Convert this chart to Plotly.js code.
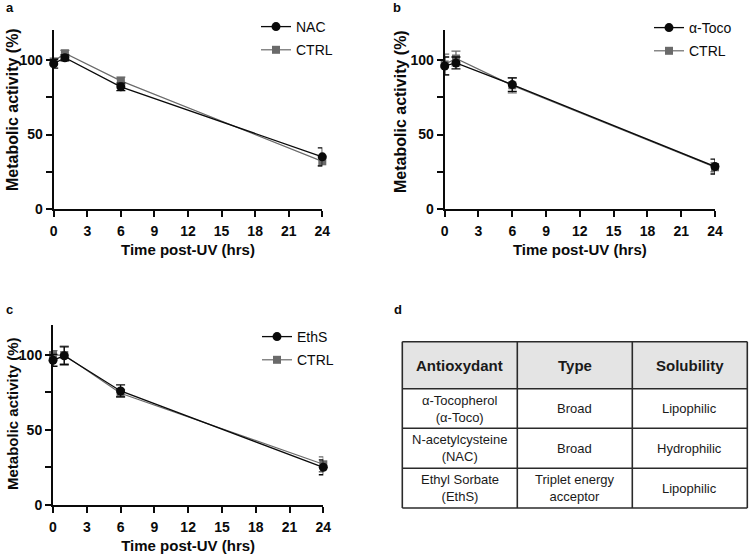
<!DOCTYPE html>
<html>
<head>
<meta charset="utf-8">
<script src="https://cdn.plot.ly/plotly-3.0.1.min.js"></script>
<style>html,body{margin:0;padding:0;background:#fff;}#chart{width:749px;height:554px;}</style>
</head>
<body>
<div id="chart"></div>
<script>
// ---- data ----
const timeHrs = [0, 1, 6, 24];
const xTickVals = [0, 3, 6, 9, 12, 15, 18, 21, 24];

const nacMean = [97.5, 101.5, 82, 35];
const nacErr = [3, 2, 2.5, 6];
const ctrlAMean = [99, 104.5, 86, 32];
const ctrlAErr = [2, 2, 2.5, 3];

const tocoMean = [96, 98, 83.5, 28.5];
const tocoErr = [6, 4, 4.5, 5];
const ctrlBMean = [97, 101, 83, 28];
const ctrlBErr = [7, 5, 5, 3];

const ethsMean = [96.5, 99.5, 76, 25];
const ethsErr = [4, 6, 4, 5];
const ctrlCMean = [100, 100, 74.5, 27];
const ctrlCErr = [3, 6, 2.5, 5];

const xTitle = "Time post-UV (hrs)";
const yTitle = "Metabolic activity (%)";
const panelLabels = ["a", "b", "c", "d"];
const tableHeader = ["Antioxydant", "Type", "Solubility"];
const tableCol1 = ["α-Tocopherol<br>(α-Toco)", "N-acetylcysteine<br>(NAC)", "Ethyl Sorbate<br>(EthS)"];
const tableCol2 = ["Broad", "Broad", "Triplet energy<br>acceptor"];
const tableCol3 = ["Lipophilic", "Hydrophilic", "Lipophilic"];

// ---- style ----
const W = 749, H = 554;
const FONT = "Liberation Sans, Arial, sans-serif";
const BLACK = "#0a0a0a";
const GRAY = "#6a6a6a";

function px(x) { return x / W; }
function py(y) { return 1 - y / H; }

function series(name, y, err, isCtrl, xa, ya, leg) {
  const c = isCtrl ? GRAY : BLACK;
  return {
    type: "scatter", mode: "lines+markers", name: name,
    x: timeHrs, y: y,
    xaxis: xa, yaxis: ya, legend: leg, legendgroup: leg + name,
    legendrank: isCtrl ? 2 : 1,
    cliponaxis: false,
    line: {color: c, width: isCtrl ? 1.2 : 1.3},
    marker: {color: c, symbol: isCtrl ? "square" : "circle", size: isCtrl ? 8 : 9},
    error_y: {type: "data", array: err, visible: true, color: c, thickness: 1.3, width: 4.5}
  };
}

const traces = [
  series("CTRL", ctrlAMean, ctrlAErr, true, "x", "y", "legend"),
  series("NAC", nacMean, nacErr, false, "x", "y", "legend"),
  series("CTRL", ctrlBMean, ctrlBErr, true, "x2", "y2", "legend2"),
  series("α-Toco", tocoMean, tocoErr, false, "x2", "y2", "legend2"),
  series("CTRL", ctrlCMean, ctrlCErr, true, "x3", "y3", "legend3"),
  series("EthS", ethsMean, ethsErr, false, "x3", "y3", "legend3")
];

function xAxis(domain, anchor) {
  return {
    domain: domain, anchor: anchor, range: [0, 24], tickvals: xTickVals,
    showline: true, linecolor: BLACK, linewidth: 2, ticks: "outside", ticklen: 6, tickwidth: 2,
    tickcolor: BLACK, showgrid: false, zeroline: false, fixedrange: true,
    ticklabelstandoff: 2,
    tickfont: {family: FONT, size: 14, color: BLACK, weight: "bold"},
    title: {text: "<b>" + xTitle + "</b>", font: {family: FONT, size: 15, color: BLACK}, standoff: 7}
  };
}
function yAxis(domain, anchor) {
  return {
    domain: domain, anchor: anchor, range: [0, 120], tickvals: [0, 50, 100],
    showline: true, linecolor: BLACK, linewidth: 2, ticks: "outside", ticklen: 6, tickwidth: 2,
    tickcolor: BLACK, showgrid: false, zeroline: false, fixedrange: true,
    minor: {tickvals: [25, 75], ticks: "outside", ticklen: 6, tickwidth: 2, tickcolor: BLACK, showgrid: false},
    tickfont: {family: FONT, size: 14, color: BLACK, weight: "bold"}
  };
}
function legendAt(xPix, yPix) {
  return {
    x: px(xPix), y: py(yPix), xanchor: "left", yanchor: "top",
    font: {family: FONT, size: 14, color: BLACK}, bgcolor: "rgba(0,0,0,0)",
    borderwidth: 0, traceorder: "grouped", tracegroupgap: 2
  };
}

// ---- table (shapes + annotations) ----
const colEdges = [402.3, 517.3, 632.3, 747.3];
const rowEdges = [341.7, 388.7, 428.3, 468.3, 508];
const shapes = [];
const annotations = [];

shapes.push({type: "rect", xref: "paper", yref: "paper",
  x0: px(colEdges[0]), x1: px(colEdges[3]), y0: py(rowEdges[0]), y1: py(rowEdges[1]),
  fillcolor: "#e4e4e4", line: {width: 0}, layer: "below"});
for (const cx of colEdges) {
  shapes.push({type: "line", xref: "paper", yref: "paper", x0: px(cx), x1: px(cx),
    y0: py(rowEdges[0]), y1: py(rowEdges[4]), line: {color: "#2a2a2a", width: 1.6}});
}
for (const ry of rowEdges) {
  shapes.push({type: "line", xref: "paper", yref: "paper", x0: px(colEdges[0]), x1: px(colEdges[3]),
    y0: py(ry), y1: py(ry), line: {color: "#2a2a2a", width: 1.6}});
}
function cellText(text, col, row, bold) {
  annotations.push({
    xref: "paper", yref: "paper",
    x: px((colEdges[col] + colEdges[col + 1]) / 2),
    y: py((rowEdges[row] + rowEdges[row + 1]) / 2),
    xanchor: "center", yanchor: "middle", showarrow: false, align: "center",
    text: bold ? "<b>" + text + "</b>" : text,
    font: {family: FONT, size: bold ? 15 : 13, color: "#1a1a1a"}
  });
}
tableHeader.forEach((t, i) => cellText(t, i, 0, true));
[tableCol1, tableCol2, tableCol3].forEach((col, ci) => col.forEach((t, ri) => cellText(t, ci, ri + 1, false)));

// y-axis titles (rotated)
const yTitlePos = [[13, 110, 16], [401, 112, 16], [12, 414, 15]];
yTitlePos.forEach(p => annotations.push({
  xref: "paper", yref: "paper", x: px(p[0]), y: py(p[1]),
  xanchor: "center", yanchor: "middle", showarrow: false, textangle: -90,
  text: "<b>" + yTitle + "</b>", font: {family: FONT, size: p[2], color: BLACK}
}));

// panel labels
const labelPos = [[10, 8], [397, 8], [9, 309], [398, 309]];
panelLabels.forEach((l, i) => annotations.push({
  xref: "paper", yref: "paper", x: px(labelPos[i][0]), y: py(labelPos[i][1]),
  xanchor: "center", yanchor: "middle", showarrow: false,
  text: "<b>" + l + "</b>", font: {family: FONT, size: 13, color: BLACK}
}));

const layout = {
  width: W, height: H, margin: {l: 0, r: 0, t: 0, b: 0},
  paper_bgcolor: "#fff", plot_bgcolor: "rgba(0,0,0,0)",
  font: {family: FONT, color: BLACK},
  showlegend: true,
  xaxis: xAxis([px(53.7), px(322.3)], "y"),
  yaxis: yAxis([py(209), py(30.2)], "x"),
  xaxis2: xAxis([px(444.7), px(715)], "y2"),
  yaxis2: yAxis([py(209), py(30.2)], "x2"),
  xaxis3: xAxis([px(53), px(323.3)], "y3"),
  yaxis3: yAxis([py(504.7), py(325.1)], "x3"),
  legend: legendAt(256, 11),
  legend2: legendAt(649, 12),
  legend3: legendAt(257, 321),
  shapes: shapes,
  annotations: annotations
};

Plotly.newPlot("chart", traces, layout, {staticPlot: true, displayModeBar: false});
</script>
</body>
</html>
